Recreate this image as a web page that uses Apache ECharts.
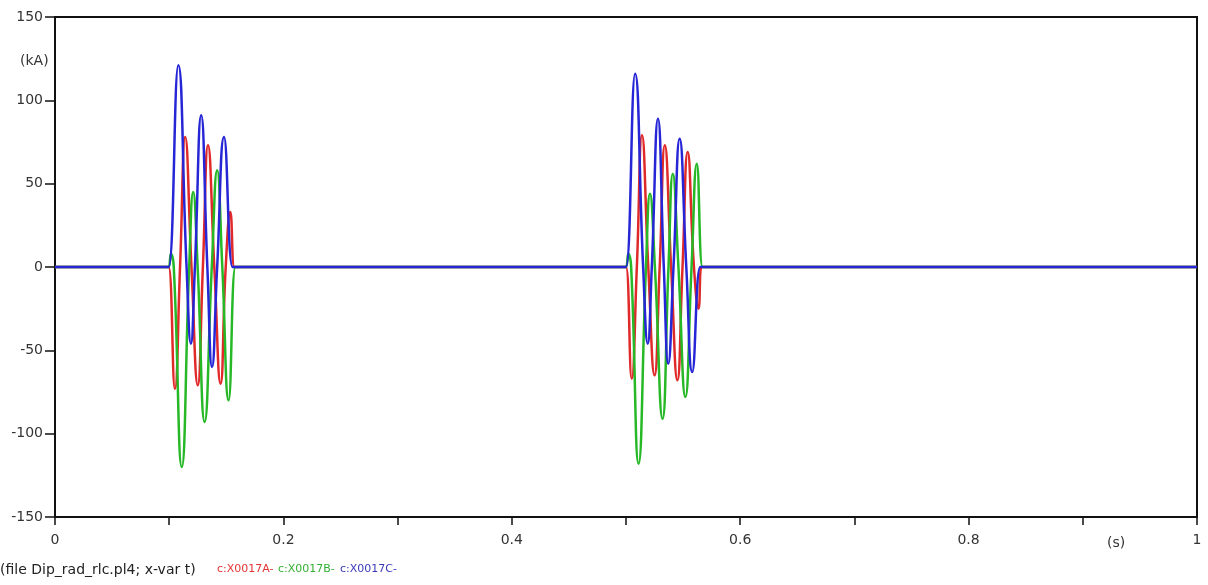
<!DOCTYPE html>
<html><head><meta charset="utf-8">
<script src="https://cdn.jsdelivr.net/npm/echarts@6/dist/echarts.min.js"></script>
<style>html,body{margin:0;padding:0;background:#fff}#c{width:1208px;height:585px}</style>
</head><body><div id="c"></div>
<script>
// Phase A (red) c:X0017A-
const tA = [0, 0.098, 0.0995, 0.105, 0.1095, 0.114, 0.1195, 0.125, 0.1295, 0.134, 0.1395, 0.145, 0.1495, 0.1535, 0.157, 0.1585,
            0.4985, 0.5, 0.505, 0.5095, 0.514, 0.5195, 0.525, 0.5295, 0.534, 0.5395, 0.545, 0.5495, 0.554, 0.5595, 0.5635, 0.566, 0.5675, 1];
const vA = [0, 0, 0, -73, 0, 78, 0, -71, 0, 73, 0, -70, 0, 33, 0, 0,
            0, 0, -67, 0, 79, 0, -65, 0, 73, 0, -68, 0, 69, 0, -25, 0, 0, 0];
// Phase B (green) c:X0017B-
const tB = [0, 0.098, 0.0995, 0.1015, 0.104, 0.111, 0.1175, 0.121, 0.1249, 0.131, 0.1373, 0.142, 0.1465, 0.152, 0.158, 0.1595,
            0.4985, 0.5, 0.502, 0.5045, 0.511, 0.5175, 0.521, 0.5253, 0.532, 0.5372, 0.541, 0.5459, 0.552, 0.5574, 0.562, 0.567, 0.5685, 1];
const vB = [0, 0, 0, 8, 0, -120, 0, 45, 0, -93, 0, 58, 0, -80, 0, 0,
            0, 0, 8, 0, -118, 0, 44, 0, -91, 0, 56, 0, -78, 0, 62, 0, 0, 0];
// Phase C (blue) c:X0017C-
const tC = [0, 0.098, 0.0995, 0.108, 0.1152, 0.119, 0.1225, 0.128, 0.1334, 0.1375, 0.142, 0.148, 0.1555, 0.157,
            0.4985, 0.5, 0.508, 0.515, 0.519, 0.5226, 0.528, 0.5331, 0.537, 0.5416, 0.547, 0.5528, 0.558, 0.565, 0.5665, 1];
const vC = [0, 0, 0, 121, 0, -46, 0, 91, 0, -60, 0, 78, 0, 0,
            0, 0, 116, 0, -46, 0, 89, 0, -58, 0, 77, 0, -63, 0, 0, 0];

const seriesNames = ['c:X0017A-', 'c:X0017B-', 'c:X0017C-'];
const xTickLabels = {0: '0', 2: '0.2', 4: '0.4', 6: '0.6', 8: '0.8', 10: '1'};
const yTicks = [-150, -100, -50, 0, 50, 100, 150];

const zip = (t, v) => t.map((x, i) => [x, v[i]]);
const colors = ['#e02a2a', '#26b826', '#2626d6'];
const chart = echarts.init(document.getElementById('c'), null, {renderer: 'canvas'});
const FONT = 'DejaVu Sans';
chart.setOption({
  animation: false,
  backgroundColor: '#fff',
  grid: {left: 55, right: 11, top: 17, bottom: 68, show: true, borderColor: '#111', borderWidth: 2, backgroundColor: '#fff'},
  xAxis: {
    type: 'value', min: 0, max: 1, interval: 0.1,
    axisLine: {onZero: false, lineStyle: {color: '#111', width: 2}},
    axisTick: {inside: false, length: 8, lineStyle: {color: '#111', width: 1.5}},
    axisLabel: {margin: 16, color: '#333', fontFamily: FONT, fontSize: 14,
      formatter: v => { const k = Math.round(v * 10); return xTickLabels[k] !== undefined ? xTickLabels[k] : ''; }},
    splitLine: {show: false}
  },
  yAxis: {
    type: 'value', min: yTicks[0], max: yTicks[yTicks.length - 1], interval: 50,
    axisLine: {onZero: false, lineStyle: {color: '#111', width: 2}},
    axisTick: {inside: false, length: 10, lineStyle: {color: '#111', width: 1.5}},
    axisLabel: {margin: 12, color: '#333', fontFamily: FONT, fontSize: 14},
    splitLine: {show: false}
  },
  series: [zip(tA, vA), zip(tB, vB), zip(tC, vC)].map((d, i) => ({
    name: seriesNames[i], type: 'line', data: d, showSymbol: false, smooth: 0.5,
    lineStyle: {color: colors[i], width: 2.5}, z: 2 + i
  })),
  graphic: [
    {type: 'text', left: 20, top: 54, style: {text: '(kA)', font: '14px "DejaVu Sans"', fill: '#333'}},
    {type: 'text', left: 1107, top: 536, style: {text: '(s)', font: '14px "DejaVu Sans"', fill: '#333'}},
    {type: 'text', left: 0, top: 563, style: {text: '(file Dip_rad_rlc.pl4; x-var t)', font: '14px "DejaVu Sans"', fill: '#222'}},
    {type: 'text', left: 217, top: 564, style: {text: seriesNames[0], font: '11px "DejaVu Sans"', fill: '#e03434'}},
    {type: 'text', left: 278, top: 564, style: {text: seriesNames[1], font: '11px "DejaVu Sans"', fill: '#33b033'}},
    {type: 'text', left: 340, top: 564, style: {text: seriesNames[2], font: '11px "DejaVu Sans"', fill: '#3a3ab8'}}
  ]
});
</script></body></html>
